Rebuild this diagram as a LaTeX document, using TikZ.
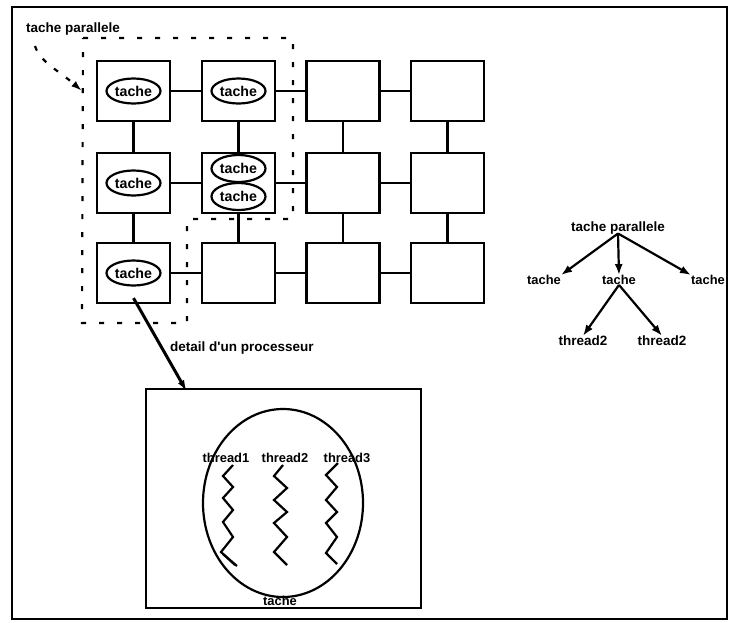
\documentclass[tikz,border=0pt]{standalone}
\usepackage{fontspec}
\usetikzlibrary{arrows.meta,shapes.geometric}
\newfontfamily\scanfont{Liberation Sans Bold}
\newcommand{\lbl}{\scanfont\fontsize{13.5}{16}\selectfont}
\newcommand{\lblbig}{\scanfont\fontsize{14.2}{16}\selectfont}
\newcommand{\lblsmall}{\scanfont\fontsize{12.9}{15}\selectfont}
\tikzset{
  proc/.style={draw, line width=2.2pt, minimum width=73pt, minimum height=60pt, inner sep=0pt},
  task/.style={draw, ellipse, line width=2.2pt, minimum width=54pt, minimum height=25pt, inner sep=0pt, font=\lblbig},
  link/.style={line width=2.2pt},
  txt/.style={inner sep=0pt, font=\lbl},
  small/.style={inner sep=0pt, font=\lblsmall},
  tarrow/.style={line width=2.2pt, -{Latex[length=11pt,width=8pt]}},
  thread/.style={line width=2.2pt, line join=miter},
}
\begin{document}
\begin{tikzpicture}[x=1pt,y=-1pt]
\useasboundingbox (0,0) rectangle (730,622);
% outer frame
\draw[line width=2pt] (12,7) rectangle (727,619);

% processor grid
\foreach \c/\x in {1/133.5,2/238.5,3/343,4/447.5}
  \foreach \r/\y in {1/91,2/183,3/273}
    \node[proc] (p\r\c) at (\x,\y) {};

% horizontal links
\foreach \r in {1,2,3}
  \foreach \a/\b in {1/2,2/3,3/4}
    \draw[link] (p\r\a.east) -- (p\r\b.west);
% vertical links
\foreach \c in {1,2,3,4}
  \foreach \a/\b in {1/2,2/3}
    \draw[link] (p\a\c.south) -- (p\b\c.north);

% tasks placed on processors
\node[task] (t11) at (p11) {tache};
\node[task] (t12) at (p12) {tache};
\node[task] (t21) at (p21) {tache};
\node[task] (t31) at (p31) {tache};
\node[task, minimum height=27pt] (t22a) at (238.5,168.5) {tache};
\node[task, minimum height=27pt] (t22b) at (238.5,196.5) {tache};

% region of the parallel task
\draw[line width=2.2pt, dash pattern=on 5pt off 13pt]
  (83,38) -- (293,38) -- (293,219) -- (187,219) -- (187,323) -- (82,323) -- cycle;
\node[txt, anchor=west] (tp) at (26,29) {tache parallele};
\coordinate (tpend) at (82,91);
\draw[line width=2.2pt, dash pattern=on 5pt off 10pt, -{Latex[length=11pt,width=7pt]}]
  (35,46) .. controls (40,62) and (58,70) .. (tpend);

% zoom on one processor
\node[txt, anchor=west] (dl) at (170,348) {detail d'un processeur};
\node[draw, line width=2.2pt, minimum width=275pt, minimum height=219pt, inner sep=0pt] (det) at (283.5,498.5) {};
\draw[line width=3pt, -{Latex[length=12pt,width=7pt]}] (p31.south) ++(0,-6) -- (187,392);
\node[draw, ellipse, line width=2.2pt, minimum width=160pt, minimum height=188pt, inner sep=0pt] (tk) at (283,503) {};
\node[small] (tkl) at (280,601) {tache};

\node[small] (th1) at (226,458) {thread1};
\node[small] (th2) at (285,458) {thread2};
\node[small] (th3) at (347,458) {thread3};
\draw[thread] (233,465) -- (223,476) -- (233,487) -- (223,498) -- (233,510) -- (223,522) -- (233,537) -- (221,552) -- (235,565);
\draw[thread] (223,554) -- (237,566);
\draw[thread] (283,465) -- (274,476) -- (287,488) -- (274,500) -- (287,512) -- (274,523) -- (287,537) -- (274,552) -- (287,565);
\draw[thread] (338,463) -- (326,475) -- (337,487) -- (326,500) -- (337,512) -- (326,523) -- (337,537) -- (326,553) -- (337,564);

% task hierarchy
\node[txt] (root) at (618,228) {tache parallele};
\node[small] (c1) at (544,280) {tache};
\node[small] (c2) at (619,280) {tache};
\node[small] (c3) at (708,280) {tache};
\node[txt] (d1) at (583,341) {thread2};
\node[txt] (d2) at (662,341) {thread2};
\draw[tarrow] (root.south) ++(0,-1) -- (c1.north east) ;
\draw[tarrow] (root.south) ++(0,-1) -- (c2.north);
\draw[tarrow] (root.south) ++(0,-1) -- (c3.north west);
\draw[tarrow] (c2.south) -- (d1.north);
\draw[tarrow] (c2.south) -- (d2.north);
\end{tikzpicture}
\end{document}
